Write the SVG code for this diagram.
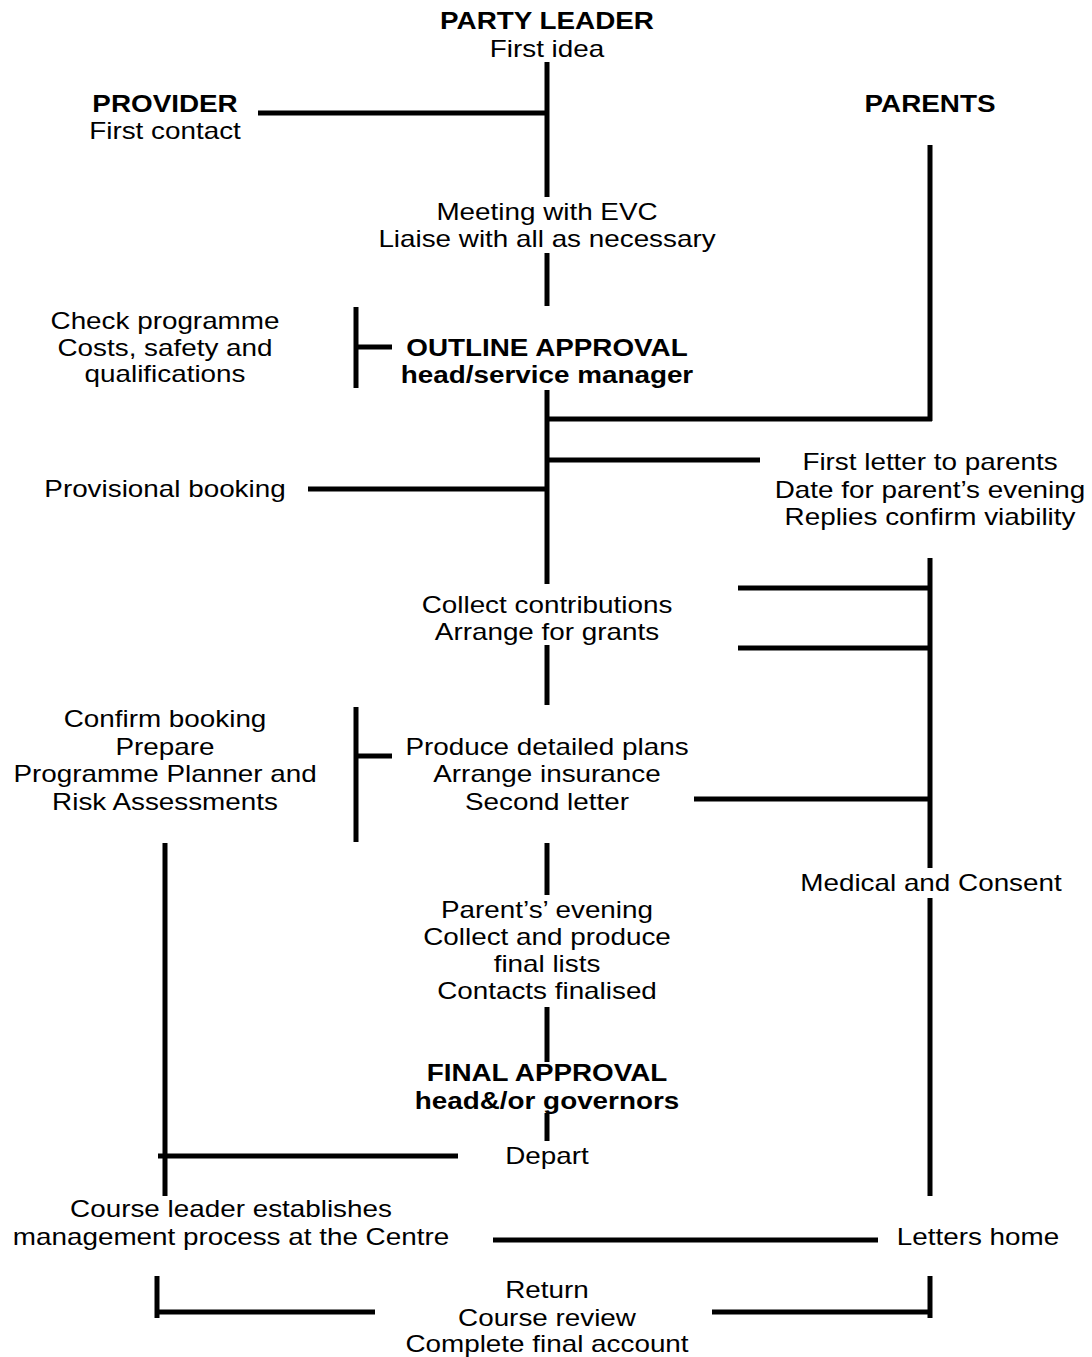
<svg xmlns="http://www.w3.org/2000/svg" width="1092" height="1357" viewBox="0 0 1092 1357">
<style>
text{font-family:"Liberation Sans",Arial,sans-serif;font-size:24px;fill:#000;text-anchor:middle}
.b{font-weight:bold}
#connectors line{stroke:#000;stroke-width:5;stroke-linecap:butt}
</style>
<rect width="1092" height="1357" fill="#fff"/>
<g id="connectors">
<line x1="547" y1="62" x2="547" y2="197"/>
<line x1="547" y1="253" x2="547" y2="306"/>
<line x1="547" y1="390" x2="547" y2="584"/>
<line x1="547" y1="645" x2="547" y2="705"/>
<line x1="547" y1="843" x2="547" y2="895"/>
<line x1="547" y1="1007" x2="547" y2="1062"/>
<line x1="547" y1="1113" x2="547" y2="1141"/>
<line x1="930" y1="145" x2="930" y2="421"/>
<line x1="930" y1="558" x2="930" y2="868"/>
<line x1="930" y1="898" x2="930" y2="1196"/>
<line x1="930" y1="1276" x2="930" y2="1318"/>
<line x1="356" y1="307" x2="356" y2="388"/>
<line x1="356" y1="707" x2="356" y2="842"/>
<line x1="165" y1="843" x2="165" y2="1196"/>
<line x1="157" y1="1276" x2="157" y2="1318"/>
<line x1="258" y1="113" x2="547" y2="113"/>
<line x1="356" y1="347" x2="392" y2="347"/>
<line x1="547" y1="419" x2="932" y2="419"/>
<line x1="545" y1="460" x2="760" y2="460"/>
<line x1="308" y1="489" x2="545" y2="489"/>
<line x1="738" y1="588" x2="930" y2="588"/>
<line x1="738" y1="648" x2="930" y2="648"/>
<line x1="356" y1="756" x2="392" y2="756"/>
<line x1="694" y1="799" x2="930" y2="799"/>
<line x1="158" y1="1156" x2="458" y2="1156"/>
<line x1="493" y1="1240" x2="878" y2="1240"/>
<line x1="157" y1="1312" x2="375" y2="1312"/>
<line x1="712" y1="1312" x2="930" y2="1312"/>
</g>
<g id="party-leader" transform="translate(547,0) scale(1.16,1)"><text class="b" y="29">PARTY LEADER</text><text y="57">First idea</text></g>
<g id="provider" transform="translate(165,0) scale(1.16,1)"><text class="b" y="112">PROVIDER</text><text y="139">First contact</text></g>
<g id="parents" transform="translate(930,0) scale(1.16,1)"><text class="b" y="112">PARENTS</text></g>
<g id="meeting" transform="translate(547,0) scale(1.16,1)"><text y="220">Meeting with EVC</text><text y="247">Liaise with all as necessary</text></g>
<g id="check" transform="translate(165,0) scale(1.16,1)"><text y="329">Check programme</text><text y="356">Costs, safety and</text><text y="382">qualifications</text></g>
<g id="outline" transform="translate(547,0) scale(1.16,1)"><text class="b" y="356">OUTLINE APPROVAL</text><text class="b" y="383">head/service manager</text></g>
<g id="provisional" transform="translate(165,0) scale(1.16,1)"><text y="497">Provisional booking</text></g>
<g id="first-letter" transform="translate(930,0) scale(1.16,1)"><text y="470">First letter to parents</text><text y="498">Date for parent’s evening</text><text y="525">Replies confirm viability</text></g>
<g id="collect" transform="translate(547,0) scale(1.16,1)"><text y="613">Collect contributions</text><text y="640">Arrange for grants</text></g>
<g id="confirm" transform="translate(165,0) scale(1.16,1)"><text y="727">Confirm booking</text><text y="755">Prepare</text><text y="782">Programme Planner and</text><text y="810">Risk Assessments</text></g>
<g id="produce" transform="translate(547,0) scale(1.16,1)"><text y="755">Produce detailed plans</text><text y="782">Arrange insurance</text><text y="810">Second letter</text></g>
<g id="medical" transform="translate(931,0) scale(1.16,1)"><text y="891">Medical and Consent</text></g>
<g id="parents-evening" transform="translate(547,0) scale(1.16,1)"><text y="918">Parent’s’ evening</text><text y="945">Collect and produce</text><text y="972">final lists</text><text y="999">Contacts finalised</text></g>
<g id="final" transform="translate(547,0) scale(1.16,1)"><text class="b" y="1081">FINAL APPROVAL</text><text class="b" y="1109">head&amp;/or governors</text></g>
<g id="depart" transform="translate(547,0) scale(1.16,1)"><text y="1164">Depart</text></g>
<g id="course-leader" transform="translate(231,0) scale(1.16,1)"><text y="1217">Course leader establishes</text><text y="1245">management process at the Centre</text></g>
<g id="letters-home" transform="translate(978,0) scale(1.16,1)"><text y="1245">Letters home</text></g>
<g id="return" transform="translate(547,0) scale(1.16,1)"><text y="1298">Return</text><text y="1326">Course review</text><text y="1352">Complete final account</text></g>
</svg>
